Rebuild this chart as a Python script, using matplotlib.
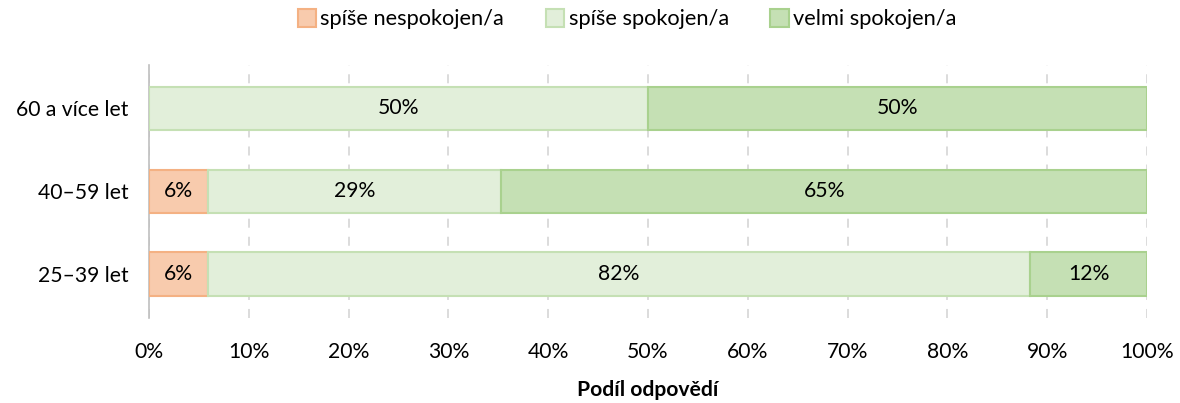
import matplotlib
matplotlib.use("Agg")
import matplotlib.pyplot as plt
import numpy as np

categories = ["25–39 let", "40–59 let", "60 a více let"]
series_names = ["spíše nespokojen/a", "spíše spokojen/a", "velmi spokojen/a"]
nespokojen = [5.9, 5.9, 0.0]
spokojen = [82.4, 29.4, 50.0]
velmi = [11.7, 64.7, 50.0]
xticks = [0, 10, 20, 30, 40, 50, 60, 70, 80, 90, 100]

fills = ["#F8CBAD", "#E2EFDA", "#C5E0B4"]
edges = ["#F4B183", "#C5E0B4", "#A9D18E"]

plt.rcParams['font.family'] = ['Lato', 'DejaVu Sans']
FS = 15.2

fig = plt.figure(figsize=(11.8, 4.03), dpi=100)
ax = fig.add_axes([149/1180, 85/403, 998/1180, 253/403])

y = np.arange(len(categories))
left = np.zeros(len(categories))
for vals, name, fc, ec in zip([nespokojen, spokojen, velmi], series_names, fills, edges):
    vals = np.array(vals)
    bars = ax.barh(y, vals, left=left, height=0.52, color=fc, edgecolor=ec,
                   linewidth=1.5, label=name, zorder=3)
    for b, v, l in zip(bars, vals, left):
        if v > 0:
            ax.text(l + v / 2, b.get_y() + b.get_height() / 2, f"{round(v):d}%",
                    ha="center", va="center", fontsize=FS, color="#000000", zorder=4)
    left = left + vals

ax.set_xlim(0, 100)
ax.set_ylim(-0.53, 2.52)
ax.set_xticks(xticks)
ax.set_xticklabels([f"{t}%" for t in xticks], fontsize=FS)
ax.set_yticks(y)
ax.set_yticklabels(categories, fontsize=FS)
ax.tick_params(axis="x", length=0, pad=17)
ax.tick_params(axis="y", length=0, pad=15)
for s in ["top", "right", "bottom"]:
    ax.spines[s].set_visible(False)
ax.spines["left"].set_color("#BFBFBF")
ax.spines["left"].set_linewidth(1.2)
ax.xaxis.grid(True, color="#D9D9D9", linestyle=(0, (5, 5)), linewidth=1.3, zorder=0)
ax.set_axisbelow(True)
ax.set_xlabel("Podíl odpovědí", fontsize=FS, fontweight="bold", labelpad=13)

leg = fig.legend(loc="center", bbox_to_anchor=(627/1180, 1 - 19/403), ncol=3, frameon=False,
                 fontsize=FS + 0.5, handlelength=0.85, handleheight=0.9, handletextpad=0.2,
                 columnspacing=1.9)

fig.savefig("out.png", dpi=100)
